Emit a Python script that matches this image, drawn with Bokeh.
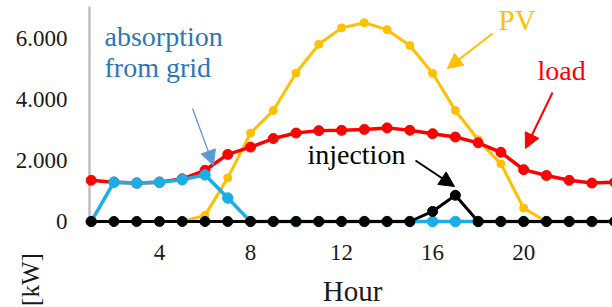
import math
from bokeh.plotting import figure
from bokeh.models import (ColumnDataSource, FixedTicker, Label, Arrow, NormalHead)
from bokeh.embed import file_html
from bokeh.resources import INLINE

hours = list(range(1, 25))
load = [1350, 1290, 1260, 1290, 1400, 1680, 2200, 2440, 2720, 2900, 2980, 2990,
        3020, 3070, 2990, 2880, 2770, 2580, 2270, 1700, 1510, 1350, 1260, 1290]
pv = [0, 0, 0, 0, 0, 200, 1430, 2900, 3640, 4870, 5810, 6350,
      6520, 6290, 5770, 4860, 3640, 2680, 1890, 440, 0, 0, 0, 0]
absorption = [0, 1290, 1260, 1290, 1370, 1530, 770, 0, 0, 0, 0, 0,
              0, 0, 0, 0, 0, 0, 0, 0, 0, 0, 0, 0]
injection = [0, 0, 0, 0, 0, 0, 0, 0, 0, 0, 0, 0,
             0, 0, 0, 330, 860, 0, 0, 0, 0, 0, 0, 0]

x_ticks = [4, 8, 12, 16, 20, 24]
y_ticks = [0, 2000, 4000, 6000]
y_tick_labels = ["0", "2.000", "4.000", "6.000"]

# view window (the plotting frame covers the whole canvas; axes sit at fixed spots)
X_START, X_END = -2.985, 23.904
Y_START, Y_END = -2820, 7247
Y_AXIS_AT = 0.925      # hour where the vertical axis line sits
X_AXIS_AT = -361       # kW level where the hour labels hang from
AXIS_TOP = 7050

FONT = "Liberation Serif"
TXT = "#1a1a1a"

src = ColumnDataSource(dict(h=hours, load=load, pv=pv, ab=absorption, inj=injection))

p = figure(width=612, height=307, output_backend="svg", toolbar_location=None,
           x_range=(X_START, X_END), y_range=(Y_START, Y_END),
           min_border_left=0, min_border_right=0, min_border_top=0, min_border_bottom=0)
p.outline_line_color = None
p.xgrid.visible = False
p.ygrid.visible = False

p.yaxis.fixed_location = Y_AXIS_AT
p.yaxis.ticker = FixedTicker(ticks=y_ticks)
p.yaxis.major_label_overrides = {t: l for t, l in zip(y_ticks, y_tick_labels)}
p.yaxis.axis_line_color = None
p.yaxis.major_tick_line_color = None
p.yaxis.minor_tick_line_color = None
p.yaxis.major_tick_out = 0
p.yaxis.major_tick_in = 0
p.yaxis.major_label_standoff = 22
p.yaxis.major_label_text_font = FONT
p.yaxis.major_label_text_font_size = "23px"
p.yaxis.major_label_text_color = TXT

p.xaxis.fixed_location = X_AXIS_AT
p.xaxis.ticker = FixedTicker(ticks=x_ticks)
p.xaxis.axis_line_color = None
p.xaxis.major_tick_line_color = None
p.xaxis.minor_tick_line_color = None
p.xaxis.major_tick_out = 0
p.xaxis.major_tick_in = 0
p.xaxis.major_label_standoff = 12
p.xaxis.major_label_text_font = FONT
p.xaxis.major_label_text_font_size = "23px"
p.xaxis.major_label_text_color = TXT

p.segment(x0=[Y_AXIS_AT], y0=[0], x1=[Y_AXIS_AT], y1=[AXIS_TOP], line_color="#BFBFBF", line_width=2.5)

p.line("h", "pv", source=src, line_color="#FFC000", line_width=3)
p.scatter("h", "pv", source=src, size=8, color="#FFC000")
p.line("h", "load", source=src, line_color="#FF0000", line_width=3.5)
p.scatter("h", "load", source=src, size=10, color="#FF0000")
p.line("h", "ab", source=src, line_color="#1AADE8", line_width=3.5)
p.scatter("h", "ab", source=src, size=10.5, color="#1AADE8")
p.line("h", "inj", source=src, line_color="#000000", line_width=3)
p.scatter("h", "inj", source=src, size=10, color="#000000")

def lab(text, x, y, color, size="28px"):
    p.add_layout(Label(x=x, y=y, text=text, text_font=FONT, text_font_size=size,
                       text_color=color, text_baseline="alphabetic"))

lab("absorption", 1.584, 6060, "#2E75B6")
lab("from grid", 1.584, 5050, "#2E75B6")
lab("PV", 18.90, 6620, "#FFC000", size="29px")
lab("load", 20.61, 4950, "#FF0000")
lab("injection", 10.50, 2200, "#000000")

# axis titles
p.add_layout(Label(x=12.48, y=-2263, text="Hour", text_font=FONT, text_font_size="29px",
                   text_color=TXT, text_align="center", text_baseline="middle"))
p.add_layout(Label(x=-1.667, y=-1902, text="[kW]", text_font=FONT, text_font_size="25px",
                   text_color=TXT, text_align="center", text_baseline="middle",
                   angle=math.pi / 2))

def arrow(x0, y0, x1, y1, color, width):
    p.add_layout(Arrow(x_start=x0, y_start=y0, x_end=x1, y_end=y1,
                       line_color=color, line_width=width,
                       end=NormalHead(size=15, fill_color=color, line_color=color)))

arrow(5.451, 3705, 6.373, 1836, "#5B9BD5", 1.3)
arrow(18.63, 6165, 16.65, 5017, "#FFC000", 2)
arrow(21.27, 4230, 20.08, 2394, "#FF0000", 2)
arrow(15.25, 2000, 16.96, 1148, "#000000", 2)

open("out.html", "w").write(file_html(p, INLINE))
